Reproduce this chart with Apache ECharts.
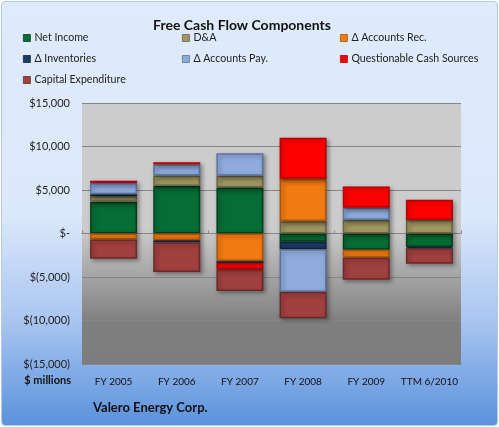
<!DOCTYPE html>
<html>
<head>
<meta charset="utf-8">
<script src="https://cdn.jsdelivr.net/npm/echarts@6/dist/echarts.min.js"></script>
<style>
html,body{margin:0;padding:0;width:499px;height:427px;overflow:hidden;background:#fff;}
#wrap{position:absolute;left:1px;top:1px;width:495px;height:423px;border:1px solid #b9c9e2;border-radius:4px;
background:linear-gradient(to bottom,#dfeafc 0%,#dce8fb 50%,#aac6f0 75%,#5b92dc 100%);}
#chart{position:absolute;left:0;top:0;width:499px;height:427px;}
</style>
</head>
<body>
<div id="wrap"></div>
<div id="chart"></div>
<script>
var categories = ['FY 2005','FY 2006','FY 2007','FY 2008','FY 2009','TTM 6/2010'];
var netIncome = [3650, 5460, 5300, -960, -1860, -1550];
var depAmort = [620, 1200, 1350, 1400, 1550, 1550];
var accountsRec = [-700, -770, -3190, 4880, -930, 0];
var inventories = [230, -230, -200, -850, 0, -150];
var accountsPay = [1300, 1280, 2580, -4920, 1400, 0];
var questionable = [270, 240, -770, 4720, 2450, 2320];
var capex = [-2190, -3420, -2460, -3000, -2520, -1790];
var yTicks = [-15000, -10000, -5000, 0, 5000, 10000, 15000];

var seriesDefs = [
  {name:'Net Income', data:netIncome, color:'#066d35', border:'#03401f'},
  {name:'D&A', data:depAmort, color:'#a09762', border:'#6b6440'},
  {name:'\u0394 Accounts Rec.', data:accountsRec, color:'#f27a12', border:'#a8520a'},
  {name:'\u0394 Inventories', data:inventories, color:'#1f3b64', border:'#12243e'},
  {name:'\u0394 Accounts Pay.', data:accountsPay, color:'#8eabdc', border:'#5c7299'},
  {name:'Questionable Cash Sources', data:questionable, color:'#ff0000', border:'#b30000'},
  {name:'Capital Expenditure', data:capex, color:'#a0403f', border:'#6a2929'}
];

function fmt(v){
  if (v === 0) return '$-';
  var s = Math.abs(v).toString().replace(/\B(?=(\d{3})+(?!\d))/g, ',');
  return v < 0 ? '$(' + s + ')' : '$' + s;
}

var FONT = 'Lato, "Noto Sans", sans-serif';

var series = seriesDefs.map(function(d){
  return {
    name: d.name,
    type: 'bar',
    stack: 'fcf',
    barWidth: 47,
    xAxisIndex: 0,
    data: d.data.map(function(v){ return v === 0 ? null : v; }),
    itemStyle: {
      color: d.color,
      borderColor: d.border,
      borderWidth: 1.5,
      shadowBlur: 4,
      shadowOffsetX: 2,
      shadowOffsetY: 2,
      shadowColor: 'rgba(0,0,0,0.35)'
    }
  };
});

function legendBlock(left, names){
  return {
    orient: 'vertical',
    left: left,
    top: 26,
    itemWidth: 7,
    itemHeight: 7,
    itemGap: 7,
    icon: 'rect',
    itemStyle: {borderWidth: 0.8},
    textStyle: {fontFamily: FONT, fontSize: 10.6, color: '#222', lineHeight: 14, padding: [0,0,0,-1]},
    data: names
  };
}

var chart = echarts.init(document.getElementById('chart'), null, {renderer:'canvas'});
chart.setOption({
  animation: false,
  backgroundColor: 'transparent',
  title: {
    text: 'Free Cash Flow Components',
    left: 237, top: 13, textAlign: 'center',
    textStyle: {fontFamily: FONT, fontSize: 14, fontWeight: 'bold', color: '#111'}
  },
  legend: [
    legendBlock(18, ['Net Income', '\u0394 Inventories', 'Capital Expenditure']),
    legendBlock(177, ['D&A', '\u0394 Accounts Pay.']),
    legendBlock(335, ['\u0394 Accounts Rec.', 'Questionable Cash Sources'])
  ],
  grid: {
    left: 82, right: 38, top: 103, bottom: 63,
    show: true, borderWidth: 0,
    backgroundColor: {
      type: 'linear', x: 0, y: 0, x2: 0, y2: 1,
      colorStops: [
        {offset: 0, color: '#cccccc'},
        {offset: 0.48, color: '#cccccc'},
        {offset: 0.84, color: '#7f7f7f'},
        {offset: 1, color: '#7d7d7d'}
      ]
    }
  },
  xAxis: [
    {
      type: 'category', data: categories,
      axisLine: {onZero: true, lineStyle: {color: '#868686', width: 1}},
      axisTick: {show: true, inside: true, length: 3, lineStyle: {color: '#868686'}},
      axisLabel: {show: false}
    },
    {
      type: 'category', data: categories, position: 'bottom',
      axisLine: {show: false}, axisTick: {show: false},
      axisLabel: {margin: 13, fontFamily: FONT, fontSize: 10, color: '#111', interval: 0}
    }
  ],
  yAxis: {
    type: 'value', min: yTicks[0], max: yTicks[yTicks.length-1], interval: 5000,
    axisLine: {show: false}, axisTick: {show: false},
    splitLine: {lineStyle: {color: '#868686', width: 1}},
    axisLabel: {margin: 12, fontFamily: FONT, fontSize: 11, color: '#222', formatter: fmt}
  },
  graphic: [
    {type: 'text', right: 428, top: 375, style: {text: '$ millions', font: 'bold 11px ' + FONT, fill: '#111', textAlign: 'right'}},
    {type: 'text', left: 93, top: 401, style: {text: 'Valero Energy Corp.', font: 'bold 13px ' + FONT, fill: '#111'}}
  ],
  series: series
});
</script>
</body>
</html>
